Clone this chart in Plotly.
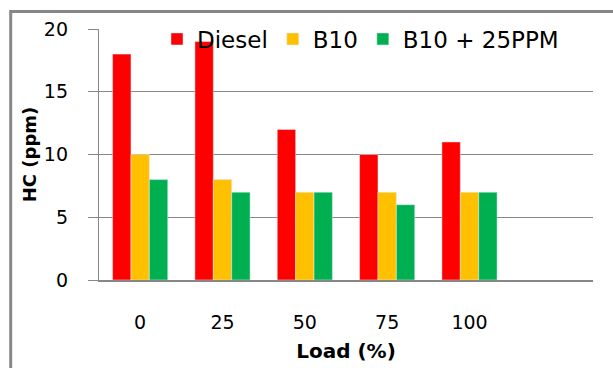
import plotly.graph_objects as go

categories = ["0", "25", "50", "75", "100"]
diesel = [18, 19, 12, 10, 11]
b10 = [10, 8, 7, 7, 7]
b10_25ppm = [8, 7, 7, 6, 7]
y_ticks = [0, 5, 10, 15, 20]

FONT = "'DejaVu Sans', sans-serif"
GRID = "#878787"

fig = go.Figure()
fig.add_bar(x=categories, y=diesel, name="Diesel", marker_color="#FF0000")
fig.add_bar(x=categories, y=b10, name="B10", marker_color="#FFC000")
fig.add_bar(x=categories, y=b10_25ppm, name="B10 + 25PPM", marker_color="#00B050")

L, R, T, B = 99, 20, 29, 88
W, H = 613, 368
pw, ph = W - L - R, H - T - B

def px_x(p):
    return (p - L) / pw

def px_y(p):
    return (H - B - p) / ph

fig.update_layout(
    width=W, height=H,
    margin=dict(l=L, r=R, t=T, b=B, autoexpand=False),
    plot_bgcolor="white", paper_bgcolor="white",
    barmode="group", bargap=0.33, bargroupgap=0,
    font=dict(family=FONT, size=19, color="#000000"),
    showlegend=True,
    legend=dict(orientation="h", x=px_x(157), xanchor="left",
                y=px_y(39), yanchor="middle",
                font=dict(family=FONT, size=23, color="#000000"),
                bgcolor="rgba(0,0,0,0)", traceorder="normal"),
    xaxis=dict(type="category", categoryorder="array", categoryarray=categories,
               range=[-0.5, 5.5], showline=True, linecolor=GRID, linewidth=1.5,
               ticks="", showgrid=False, ticklabelstandoff=24,
               tickfont=dict(family=FONT, size=19),
               title=dict(text="<b>Load (%)</b>", font=dict(family=FONT, size=20), standoff=12)),
    yaxis=dict(range=[0, 20], tickvals=y_ticks, showgrid=True, gridcolor=GRID, gridwidth=1.3,
               showline=True, linecolor=GRID, linewidth=1.3, ticks="outside",
               ticklen=10, tickcolor=GRID, ticklabelstandoff=16, zeroline=False,
               tickfont=dict(family=FONT, size=19),
               title=dict(text="<b>HC (ppm)</b>", font=dict(family=FONT, size=18), standoff=2)),
    shapes=[dict(type="rect", xref="paper", yref="paper",
                 x0=px_x(10.7), x1=px_x(700), y0=px_y(500), y1=px_y(11.5),
                 line=dict(color="#878787", width=3), fillcolor="rgba(0,0,0,0)", layer="below")],
)

fig.write_html("out.html", config={"displayModeBar": False},
               post_script="document.body.style.margin='0';document.body.style.padding='0';")
